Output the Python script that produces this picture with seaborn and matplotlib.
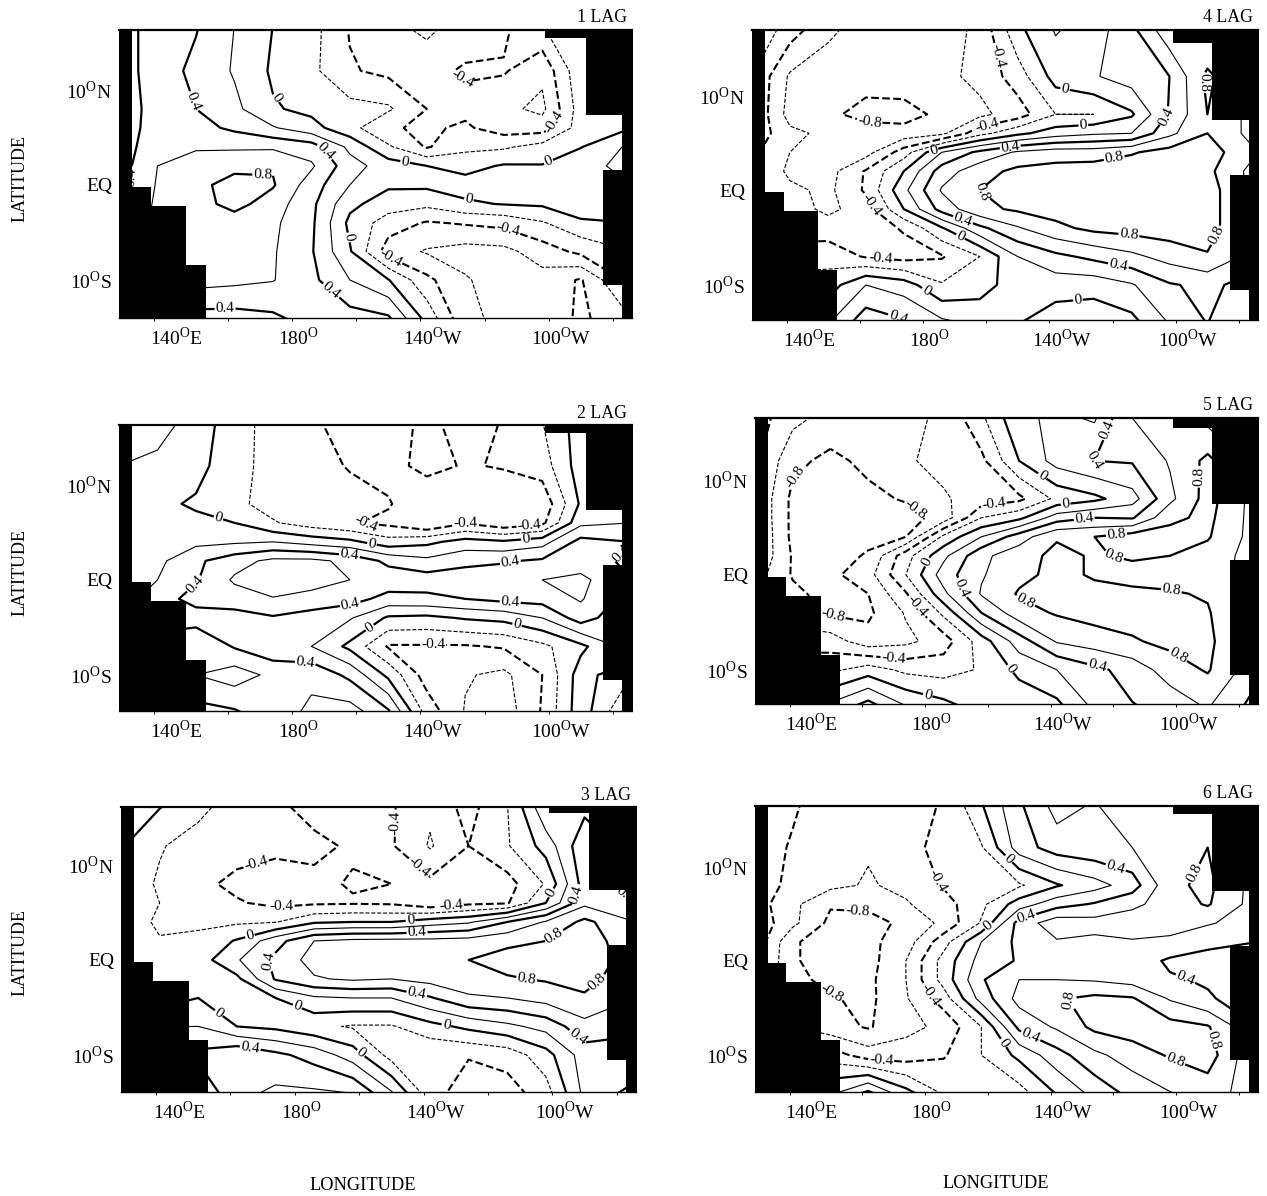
import seaborn as sns
import matplotlib.pyplot as plt
import numpy as np

lons = [124, 136, 148, 160, 172, 184, 196, 208, 220, 232, 244, 256, 268, 284]
lats = [17, 12, 8, 6, 4, 2, 0, -2, -4, -7, -10, -14.2]

lag1 = [
    [.3, .5, .42, .2, 0, -.12, -.42, -.55, -.68, -.5, -.45, -.2, -.1, -.1],
    [.3, .5, .35, .18, -.03, -.15, -.38, -.45, -.45, -.38, -.38, -.55, -.05, -.05],
    [.3, .47, .4, .25, .02, -.05, -.13, -.17, -.4, -.45, -.55, -.65, -.1, 0],
    [.3, .48, .47, .36, .22, .07, -.13, -.38, -.43, -.37, -.5, -.5, -.1, 0],
    [.3, .52, .57, .57, .57, .5, .15, -.17, -.42, -.25, -.23, -.12, -.01, .25],
    [.3, .6, .72, .75, .78, .63, .28, .1, 0, -.07, .02, .01, .15, .25],
    [.3, .62, .75, .87, .82, .5, .2, .03, .04, .08, .1, .1, .18, .2],
    [.3, .65, .72, .87, .7, .45, .05, -.1, -.15, -.03, .01, .03, .18, .1],
    [.3, .7, .7, .7, .64, .44, -.05, -.3, -.42, -.38, -.34, -.22, -.05, 0],
    [.3, .7, .68, .64, .62, .42, .02, -.5, -.62, -.68, -.66, -.5, -.35, -.2],
    [.3, .7, .68, .65, .61, .45, .2, .01, -.35, -.58, -.7, -.68, -.82, -.3],
    [.3, .4, .3, .3, .35, .47, .5, .45, -.05, -.55, -.65, -.62, -.85, -.6],
]
lag2 = [
    [.3, .3, .13, -.12, -.27, -.37, -.5, -.5, -.35, -.5, -.39, -.2, .1, .1],
    [.2, .15, .08, -.15, -.25, -.3, -.42, -.48, -.33, -.42, -.38, -.3, .1, .1],
    [.15, .05, -.03, -.15, -.28, -.28, -.3, -.38, -.58, -.47, -.58, -.55, .03, .1],
    [.1, .08, .05, 0, -.18, -.3, -.38, -.45, -.6, -.42, -.55, -.45, .15, .2],
    [.1, .12, .15, .17, .2, .12, .05, -.12, -.05, .08, .03, .12, .47, .4],
    [.1, .15, .36, .52, .65, .65, .55, .35, .25, .35, .38, .43, .5, .35],
    [.1, .2, .38, .63, .8, .72, .6, .52, .5, .5, .52, .6, .65, .4],
    [.1, .3, .48, .5, .58, .5, .48, .33, .35, .4, .46, .48, .62, .3],
    [.1, .3, .3, .32, .38, .33, .22, -.03, -.05, .02, .06, .2, .5, .2],
    [.3, .5, .6, .38, .25, .2, -.05, -.42, -.42, -.42, -.38, -.25, -.05, .3],
    [.5, .6, .6, .7, .55, .55, .35, -.05, -.5, -.58, -.65, -.4, .1, -.2],
    [.3, .3, .3, .35, .5, .65, .72, .47, -.25, -.62, -.72, -.38, .12, -.5],
]
lag3 = [
    [.1, .05, -.1, -.28, -.38, -.5, -.55, -.42, -.25, -.5, -.2, .45, .3, .3],
    [.02, -.18, -.3, -.32, -.35, -.35, -.43, -.42, -.18, -.4, -.22, .08, .55, .3],
    [-.05, -.23, -.35, -.45, -.5, -.45, -.38, -.4, -.45, -.45, -.48, -.18, .5, .3],
    [-.05, -.2, -.24, -.38, -.45, -.43, -.42, -.43, -.55, -.45, -.42, 0, .55, .4],
    [-.03, -.25, -.24, -.23, -.21, -.03, 0, 0, .1, .17, .4, .62, .85, .6],
    [-.1, -.18, -.15, .02, .32, .6, .65, .66, .66, .68, .75, .8, .95, .6],
    [-.1, -.1, -.1, .18, .45, .68, .7, .7, .72, .8, .88, .92, .92, .7],
    [-.1, -.1, -.15, -.05, .42, .58, .63, .6, .67, .72, .78, .82, .85, .7],
    [-.1, -.1, 0, -.12, 0, .17, .2, .2, .38, .57, .6, .68, .78, .6],
    [.1, .2, .2, 0, -.05, -.15, -.22, -.22, -.07, .05, .15, .27, .53, .5],
    [.3, .4, .45, .58, .45, .32, .1, -.28, -.38, -.38, -.32, -.08, .3, .2],
    [.2, .2, .2, .55, .65, .65, .62, .25, -.3, -.55, -.5, -.3, .25, .5],
]
lag4 = [
    [0, -.3, -.55, -.7, -.72, -.7, -.55, -.05, .22, .1, .35, .75, .55, .5],
    [-.2, -.63, -.72, -.7, -.68, -.65, -.55, -.3, .08, .18, .3, .4, .85, .5],
    [-.2, -.68, -.75, -.88, -.88, -.75, -.65, -.5, -.2, -.2, -.03, .42, .8, .5],
    [-.25, -.55, -.65, -.68, -.72, -.65, -.27, -.05, .1, .17, .2, .55, .8, .5],
    [-.35, -.6, -.7, -.68, -.3, .2, .45, .63, .7, .7, .78, .88, .9, .6],
    [-.35, -.65, -.68, -.38, 0, .5, .72, .85, .88, .9, .92, .92, .85, .5],
    [-.4, -.55, -.65, -.37, .15, .62, .8, .9, .92, .93, .93, .93, .9, .5],
    [-.5, -.5, -.65, -.5, 0, .48, .75, .83, .88, .9, .92, .92, .9, .5],
    [-.5, -.5, -.5, -.5, -.38, -.02, .35, .58, .75, .85, .88, .9, .9, .5],
    [-.3, -.3, -.28, -.42, -.48, -.42, -.2, .2, .35, .45, .55, .68, .78, .5],
    [-.1, -.1, -.1, .2, .1, -.18, -.1, .12, .09, .08, .18, .38, .45, .3],
    [.2, .2, .2, .55, .45, .27, .18, 0, -.12, -.15, -.08, .2, .4, .2],
]
lag5 = [
    [-.3, -.52, -.65, -.7, -.68, -.55, -.22, .18, .22, .15, .62, .82, .5, .5],
    [-.35, -.75, -.85, -.75, -.62, -.55, -.45, 0, .28, .4, .42, .62, .85, .5],
    [-.4, -.85, -.9, -.85, -.78, -.62, -.52, -.45, -.15, -.05, .12, .55, .88, .5],
    [-.4, -.85, -.9, -.9, -.88, -.72, -.2, -.05, .3, .4, .38, .75, .85, .5],
    [-.38, -.85, -.9, -.85, -.8, -.15, .2, .5, .78, .8, .9, .88, .82, .5],
    [-.4, -.82, -.88, -.78, -.28, .15, .55, .72, .85, .78, .83, .8, .72, .5],
    [-.5, -.82, -.85, -.68, -.2, .3, .58, .75, .85, .78, .72, .72, .7, .5],
    [-.6, -.75, -.88, -.8, -.42, .15, .62, .82, .87, .85, .85, .82, .78, .5],
    [-.6, -.7, -.83, -.84, -.58, -.15, .4, .72, .82, .88, .88, .88, .82, .5],
    [-.5, -.5, -.5, -.72, -.65, -.5, -.1, .3, .62, .7, .78, .85, .85, .5],
    [-.25, -.25, -.25, -.1, -.25, -.28, -.18, .05, .2, .35, .48, .7, .82, .45],
    [.3, .3, .3, .55, .25, .1, -.05, -.15, -.08, .22, .38, .45, .6, .3],
]
lag6 = [
    [-.2, -.37, -.5, -.6, -.52, -.38, 0, .38, .7, .6, .7, .75, .8, .5],
    [-.3, -.42, -.5, -.58, -.5, -.3, -.22, .3, .5, .55, .6, .75, .8, .5],
    [-.3, -.45, -.55, -.62, -.55, -.38, -.3, -.23, -.02, .12, .3, .75, .85, .5],
    [-.3, -.55, -.78, -.75, -.62, -.48, -.25, .1, .32, .42, .55, .7, .82, .5],
    [-.25, -.55, -.85, -.88, -.75, -.55, -.18, .48, .72, .68, .72, .7, .62, .5],
    [-.25, -.78, -.88, -.85, -.7, -.28, .2, .45, .58, .55, .58, .55, .45, .4],
    [-.3, -.78, -.88, -.88, -.6, -.12, .28, .42, .48, .58, .5, .37, .33, .3],
    [-.4, -.75, -.85, -.85, -.6, -.12, .38, .6, .6, .58, .52, .42, .38, .3],
    [-.5, -.6, -.78, -.85, -.62, -.3, .28, .67, .78, .85, .82, .58, .42, .3],
    [-.5, -.6, -.72, -.82, -.66, -.55, -.2, .45, .63, .85, .9, .88, .82, .4],
    [-.3, -.3, -.3, -.5, -.5, -.42, -.2, .05, .32, .55, .7, .82, .9, .4],
    [.2, .2, .2, .5, .1, -.2, -.2, -.3, 0, .25, .45, .58, .68, .5],
]

levels = [-.8, -.6, -.4, -.2, 0, .2, .4, .6, .8]
line_widths = [1.5, .8, 1.5, .8, 1.6, .8, 1.6, .8, 1.6]
line_styles = ["--", "--", "--", "--", "-", "-", "-", "-", "-"]

west_lats = [18, -.2, -2.2, -8.4, -16]
west_lons = [128, 134, 145, 151, 151]
east_lats = [18, 15.5, 7.4, 1.6, -10.5, -16]
east_lons = [257, 269.5, 281, 275, 281, 281]

labels1 = [(.4, 142.5, 8.2), (0, 171, 8.6), (.4, 190, 4), (.8, 169, 2.3), (0, 212.5, 1), (0, 258, 2.4),
           (0, 233, -1.8), (-.4, 230, 10.8), (-.4, 262, 6.3), (-.4, 245, -5), (-.4, 208, -8.2),
           (0, 196, -5.5), (.4, 130, .8), (.4, 157, -11.8), (.4, 189, -11.6)]
labels2 = [(0, 155, 6.5), (-.4, 201, 6), (.4, 196, 3.2), (0, 203, 4), (-.4, 233, 8.7), (-.4, 252, 5.8),
           (0, 251, 3.9), (.4, 246, 2), (.4, 147, -.2), (.4, 196, -2.4), (.4, 246, -2.4), (0, 201, -4.4),
           (0, 248, -5), (-.4, 222, -7.3), (.4, 182, -9.5), (.4, 280, 3)]
labels3 = [(-.4, 210, 14.4), (-.4, 165, 11.4), (-.4, 214, 8.7), (-.4, 174, 5), (-.4, 226.5, 5.6), (0, 164, 2.6),
           (0, 214, 3.9), (.4, 216, 2.6), (0, 258, 7), (.4, 264, 7), (.4, 279, 6), (.8, 259, 2.3),
           (.4, 168, -.3), (.8, 250, -2), (.8, 273, -2.8), (.4, 216, -3.4), (0, 179, -4.7), (0, 225, -7),
           (.4, 267, -7.6), (0, 153, -6.3), (.4, 164, -9.6), (0, 199, -9.6)]
labels4 = [(-.4, 202, 14.2), (0, 223, 10.7), (.4, 254.5, 7.9), (-.8, 161, 6.3), (-.4, 198.6, 6.5), (0, 228.8, 6.7),
           (.4, 205.6, 4.7), (.8, 238, 4.4), (0, 181.7, 3.9), (-.4, 128.3, 2.8), (.8, 267.7, 11.4), (.8, 195.5, -.7),
           (-.4, 162.2, -1.4), (.4, 190.5, -3.3), (0, 189.9, -4.9), (.8, 243.2, -4.6), (.8, 272, -5),
           (-.4, 164.7, -7.5), (.4, 240.1, -7.5), (0, 179.8, -10.2), (0, 226.9, -10.9), (.4, 171, -12.5)]
labels5 = [(.4, 236.3, 15.2), (.4, 223.1, 12.3), (-.8, 134.6, 11), (0, 215.6, 10.5), (.8, 267.1, 10.3), (-.8, 174.1, 6.5),
           (-.4, 200, 7.2), (0, 222.9, 7.2), (.4, 228.8, 5.6), (.8, 238.8, 4.9), (.8, 238.2, 2.1), (0, 179, 1.3),
           (.4, 188, -1.6), (-.4, 174.8, -3.5), (.8, 209.3, -3.3), (.8, 256.4, -1.7), (-.8, 148.8, -4.2), (.8, 257.7, -9),
           (.4, 233, -9.5), (-.4, 167.9, -9.5), (0, 205.6, -9.8), (0, 179.4, -12)]
labels6 = [(0, 205.3, 11), (.4, 239.2, 10.4), (.8, 258, 10.3), (-.4, 179.8, 8.2), (-.8, 156.6, 5.8), (0, 197.8, 3.9),
           (.4, 210.3, 4.6), (.4, 261, -1.8), (-.4, 179, -3.7), (.8, 223.4, -4.2), (-.8, 148, -3.7), (.8, 270.2, -8.4),
           (.8, 259, -9.4), (.4, 210.6, -8.8), (0, 202.2, -8.9), (-.4, 164.1, -10.7)]

# name, grid, labels, box in pixels (left, top, right, bottom), lat limits
panels = [
    ("1 LAG", lag1, labels1, (119, 30, 632, 318), (-14, 16.3)),
    ("2 LAG", lag2, labels2, (119, 425, 632, 711), (-13.8, 16.3)),
    ("3 LAG", lag3, labels3, (121, 807, 636, 1092), (-13.9, 16.1)),
    ("4 LAG", lag4, labels4, (752, 30, 1258, 320), (-13.7, 16.9)),
    ("5 LAG", lag5, labels5, (755, 418, 1258, 704), (-13.6, 16.5)),
    ("6 LAG", lag6, labels6, (755, 806, 1258, 1092), (-13.9, 16.4)),
]

sns.set_theme(style="white", context="notebook")
plt.rcParams["font.family"] = ["Liberation Serif", "DejaVu Serif"]
plt.rcParams["mathtext.fontset"] = "custom"
plt.rcParams["mathtext.rm"] = "Liberation Serif"

W, H = 1267, 1196
fig = plt.figure(figsize=(W / 100, H / 100), dpi=100, facecolor="white")


def level_text(v):
    if v == 0:
        return "0"
    return f"{v:.1f}"


for name, grid, labels, box, ylim in panels:
    left, top, right, bottom = box
    ax = fig.add_axes([left / W, 1 - bottom / H, (right - left) / W, (bottom - top) / H])
    for lev, lw, ls in zip(levels, line_widths, line_styles):
        cs = ax.contour(lons, lats, np.array(grid), levels=[lev], colors="black",
                        linewidths=lw, linestyles=ls, zorder=2)
        spots = [(x, y) for v, x, y in labels if v == lev]
        if spots:
            ax.clabel(cs, manual=spots, inline=True, inline_spacing=1, fontsize=11,
                      fmt=level_text, zorder=4)
    ax.fill_betweenx(west_lats, 120, west_lons, step="post", color="black", lw=0, zorder=3)
    ax.fill_betweenx(east_lats, east_lons, 290, step="post", color="black", lw=0, zorder=3)
    ax.set_xlim(124, 284)
    ax.set_ylim(*ylim)
    ax.set_xticks([142, 180, 222, 262])
    ax.set_xticklabels(["140$^{\\rm O}$E", "180$^{\\rm O}$", "140$^{\\rm O}$W", "100$^{\\rm O}$W"], fontsize=14)
    ax.set_yticks([10, 0, -10])
    ax.set_yticklabels(["10$^{\\rm O}$N", "EQ", "10$^{\\rm O}$S"], fontsize=14)
    ax.set_xticks([135, 158, 178, 198, 218, 238, 258, 278], minor=True)
    ax.tick_params(axis="y", which="major", length=0, pad=5, colors="black")
    ax.tick_params(axis="x", which="major", length=0, pad=6, colors="black")
    ax.tick_params(axis="x", which="minor", bottom=True, length=2, width=.7, color="black")
    sns.despine(ax=ax, left=True, right=True, top=False)
    ax.spines["top"].set_linewidth(1.6)
    ax.spines["bottom"].set_linewidth(1.0)
    ax.spines["top"].set_color("black")
    ax.spines["bottom"].set_color("black")
    fig.text((right - 5) / W, 1 - (top - 12) / H, name, ha="right", va="center", fontsize=12.8, color="black")

for y in [178, 572, 953]:
    fig.text(20 / W, 1 - y / H, "LATITUDE", rotation=90, ha="center", va="center", fontsize=13, color="black")
fig.text(363 / W, 1 - 1185 / H, "LONGITUDE", ha="center", va="center", fontsize=13.2, color="black")
fig.text(996 / W, 1 - 1183 / H, "LONGITUDE", ha="center", va="center", fontsize=13.2, color="black")

fig.savefig("out.png", dpi=100)
